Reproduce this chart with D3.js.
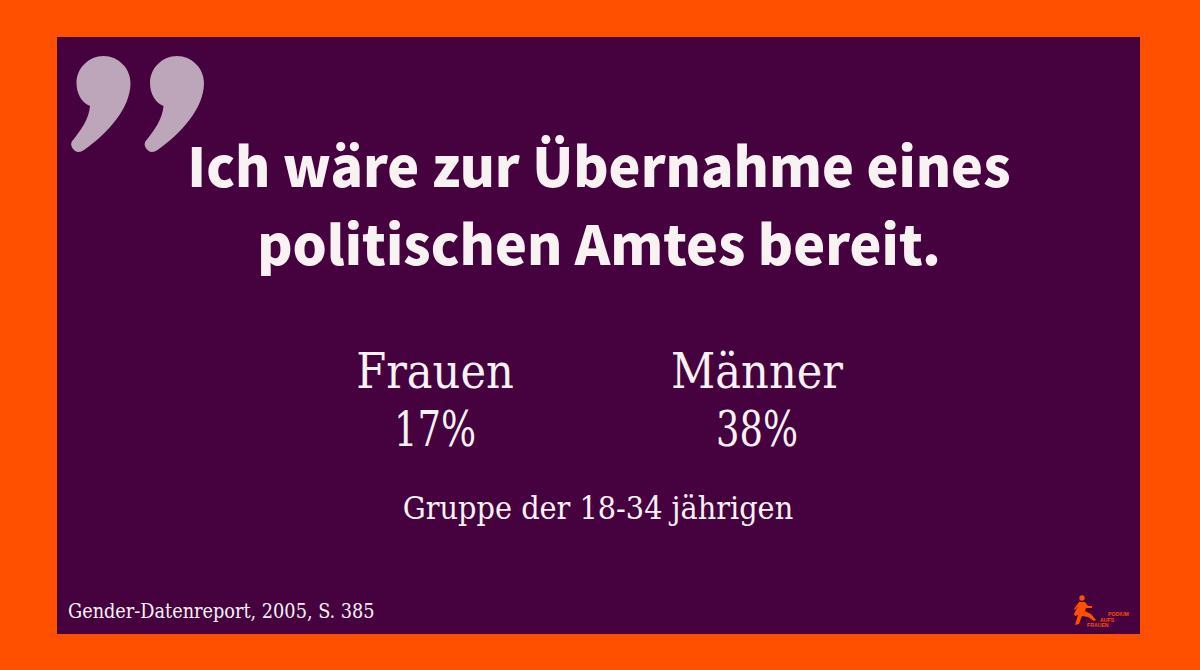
<!DOCTYPE html>
<html>
<head>
<meta charset="utf-8">
<script src="https://cdn.jsdelivr.net/npm/d3@7"></script>
<style>
html, body { margin: 0; padding: 0; background: #ff5000; }
svg { display: block; }
</style>
</head>
<body>
<div id="chart"></div>
<script>
var categories = ["Frauen", "Männer"];
var values = [17, 38];
var titleLines = ["Ich wäre zur Übernahme eines", "politischen Amtes bereit."];
var groupLabel = "Gruppe der 18-34 jährigen";
var sourceLabel = "Gender-Datenreport, 2005, S. 385";
var logoLines = ["PODIUM", "AUFS", "FRAUEN"];

var width = 1200, height = 670;
var sans = "'Noto Sans CJK SC', 'Noto Sans', sans-serif";
var serif = "'DejaVu Serif Condensed', 'DejaVu Serif', serif";
var light = "#f8f2f3", orange = "#ff5000", purple = "#45023f";

var svg = d3.select("#chart").append("svg")
	.attr("width", width)
	.attr("height", height);

svg.append("rect")
	.attr("width", width)
	.attr("height", height)
	.attr("fill", orange);

svg.append("rect")
	.attr("x", 57)
	.attr("y", 37)
	.attr("width", 1083)
	.attr("height", 597)
	.attr("fill", purple);

// big quote mark, drawn as two copies of one comma shape
var comma = "M103.5 56 C118 56 130.5 68 130.5 83 C130.5 108 108 133 84 150 C79 153.5 74.5 152 72 147.5 C70.5 144.5 71 142 73 140 C81 130 89 119 90 106 C82 103 76.5 94 76.5 83 C76.5 68 89 56 103.5 56 Z";
svg.selectAll("path.quote")
	.data([0, 73.5])
	.enter()
	.append("path")
	.attr("class", "quote")
	.attr("d", comma)
	.attr("transform", function(d) { return "translate(" + d + ",0)"; })
	.attr("fill", "#bda6b9");

svg.selectAll("text.title")
	.data(titleLines)
	.enter()
	.append("text")
	.attr("class", "title")
	.text(function(d) { return d; })
	.attr("x", 599)
	.attr("y", function(d, i) { return 187 + i * 78; })
	.attr("text-anchor", "middle")
	.attr("font-family", sans)
	.attr("font-weight", 900)
	.attr("font-size", 53.8)
	.attr("fill", light);

var x = d3.scalePoint()
	.domain(categories)
	.range([435, 757]);

svg.selectAll("text.cat")
	.data(categories)
	.enter()
	.append("text")
	.attr("class", "cat")
	.text(function(d) { return d; })
	.attr("x", function(d) { return x(d); })
	.attr("y", 388)
	.attr("text-anchor", "middle")
	.attr("font-family", serif)
	.attr("font-size", 48)
	.attr("fill", light);

// the percent sign is much narrower in the reference font, so squeeze to fit
svg.selectAll("text.val")
	.data(values)
	.enter()
	.append("text")
	.attr("class", "val")
	.text(function(d) { return d + "%"; })
	.attr("x", function(d, i) { return x(categories[i]); })
	.attr("y", 446)
	.attr("text-anchor", "middle")
	.attr("textLength", 82)
	.attr("lengthAdjust", "spacingAndGlyphs")
	.attr("font-family", serif)
	.attr("font-size", 48)
	.attr("fill", light);

svg.append("text")
	.text(groupLabel)
	.attr("x", 598)
	.attr("y", 519)
	.attr("text-anchor", "middle")
	.attr("font-family", serif)
	.attr("font-size", 32)
	.attr("fill", light);

svg.append("text")
	.text(sourceLabel)
	.attr("x", 68)
	.attr("y", 618)
	.attr("font-family", serif)
	.attr("font-size", 19.7)
	.attr("fill", light);

// logo: little running figure plus three lines of text
var logo = svg.append("g").attr("fill", orange);
logo.append("circle").attr("cx", 1082).attr("cy", 598).attr("r", 2.7);
logo.append("path")
	.attr("d", "M1079 602 L1085 602 L1088 606 L1092 606 L1092 608 L1086 608 L1085 611 L1091 614 L1096 620 L1094 621 L1088 617 L1082 616 L1079 624 L1075 625 L1078 615 L1075 616 L1074 614 L1078 606 L1075 610 L1074 609 Z");
logo.selectAll("text")
	.data(logoLines)
	.enter()
	.append("text")
	.text(function(d) { return d; })
	.attr("x", function(d, i) { return [1108, 1100, 1087][i]; })
	.attr("y", function(d, i) { return [616, 621.5, 626.5][i]; })
	.attr("font-family", "'Liberation Sans', sans-serif")
	.attr("font-weight", 700)
	.attr("font-size", 5.2);
</script>
</body>
</html>
